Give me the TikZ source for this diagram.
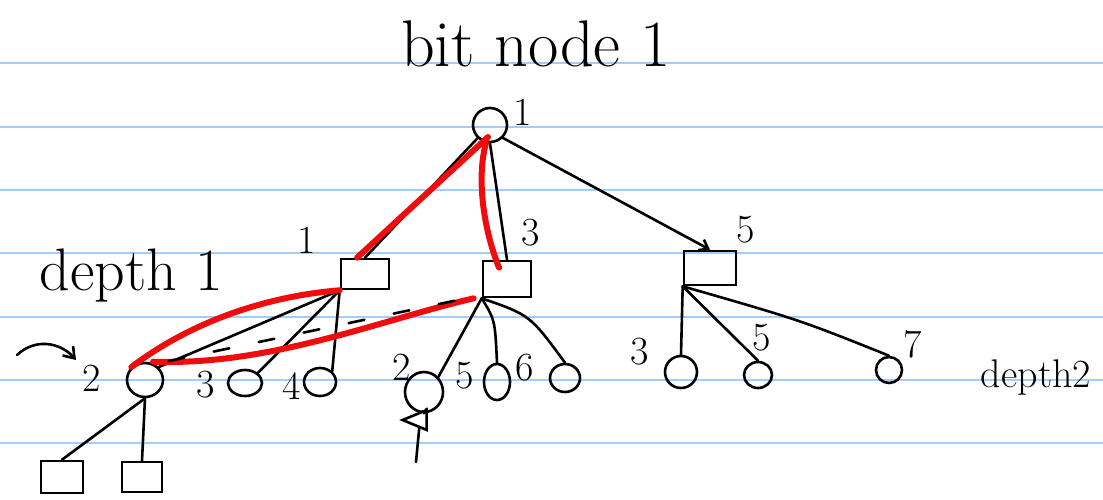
\documentclass[tikz,border=0pt]{standalone}
\usetikzlibrary{shapes.geometric,arrows.meta}
\definecolor{ruled}{RGB}{160,205,250}
\definecolor{ink}{RGB}{240,12,12}
\begin{document}
\begin{tikzpicture}[x=0.5pt,y=-0.5pt,
  pen/.style={line width=1.3pt, line cap=round, line join=round},
  redpen/.style={draw=ink, line width=3pt, line cap=round},
  vnode/.style={draw, ellipse, line width=1.3pt, inner sep=0pt},
  cnode/.style={draw, rectangle, line width=1.3pt, inner sep=0pt},
  lbl/.style={font=\fontsize{20}{24}\selectfont, inner sep=0pt},
  ruleline/.style={draw=ruled, line width=1.4pt}]
\fill[white] (0,0) rectangle (1103,499);
\useasboundingbox (0,0) rectangle (1103,499);
\foreach \y in {63,127,190,253,317,380,443} \draw[ruleline] (0,\y) -- (1103,\y);

% texts
\node[inner sep=0pt, font=\fontsize{33}{40}\selectfont] (title) at (536,44) {bit node 1};
\node[inner sep=0pt, font=\fontsize{30}{36}\selectfont] (d1) at (131,276) {depth 1};
\node[inner sep=0pt, font=\fontsize{20}{24}\selectfont] (d2) at (1036,378) {depth2};

% nodes
\node[vnode, minimum width=17pt, minimum height=17pt] (root) at (490,125) {};
\node[cnode, minimum width=24pt, minimum height=15pt] (c1) at (365,274) {};
\node[cnode, minimum width=24pt, minimum height=18pt] (c3) at (507,279) {};
\node[cnode, minimum width=26pt, minimum height=17pt] (c5) at (710,268) {};

\node[vnode, minimum width=18pt, minimum height=17pt] (v2) at (145,380) {};
\node[vnode, minimum width=17pt, minimum height=13pt] (v3) at (245,383) {};
\node[vnode, minimum width=16pt, minimum height=14pt] (v4) at (320,382) {};
\node[vnode, minimum width=19pt, minimum height=20pt] (v2b) at (424,392) {};
\node[vnode, minimum width=13pt, minimum height=18pt] (v5) at (497,382) {};
\node[vnode, minimum width=15pt, minimum height=14pt] (v6) at (565,378) {};
\node[vnode, minimum width=16pt, minimum height=16pt] (v3c) at (681,372) {};
\node[vnode, minimum width=14pt, minimum height=13pt] (v5c) at (758,375) {};
\node[vnode, minimum width=13pt, minimum height=13pt] (v7) at (889,370) {};

\node[cnode, minimum width=21pt, minimum height=16pt] (s1) at (62,477) {};
\node[cnode, minimum width=20pt, minimum height=15pt] (s2) at (142,477) {};
\node[draw, isosceles triangle, shape border rotate=180, line width=1.3pt, inner sep=0pt,
      minimum width=5pt, minimum height=12pt] (tri) at (420,420) {};
\coordinate (tend) at (416,462);

% labels
\node[lbl] (lr) at (523,112) {1};
\node[lbl] (l1) at (307,240) {1};
\node[lbl] (l3) at (531,233) {3};
\node[lbl] (l5) at (746,230) {5};
\node[lbl] (lv2) at (92,378) {2};
\node[lbl] (lv3) at (206,385) {3};
\node[lbl] (lv4) at (292,386) {4};
\node[lbl] (lv2b) at (402,367) {2};
\node[lbl] (lv5) at (465,376) {5};
\node[lbl] (lv6) at (525,368) {6};
\node[lbl] (lv3c) at (640,352) {3};
\node[lbl] (lv5c) at (762,338) {5};
\node[lbl] (lv7) at (913,344) {7};

% left arrow
\coordinate (astart) at (17,355);
\coordinate (aend) at (76,360);
\draw[pen, -{Straight Barb[length=5pt,width=7pt]}] (astart) .. controls (35,338) and (60,342) .. (aend);

% black edges
\draw[pen] (root) -- (c1.north);
\draw[pen] (root.south) -- (c3.north);
\draw[pen, -{Straight Barb[length=4pt,width=6pt]}] (root.south east) -- (c5.north);

\draw[pen] (c1.south west) -- (v2.north east);
\draw[pen] (c1.south west) -- (v3.north east);
\draw[pen] (c1.south west) -- (v4.north east);

\draw[pen] (c3.south west) -- (v2b.north east);
\draw[pen] (c3.south west) .. controls (495,320) .. (v5.north);
\draw[pen] (c3.south west) .. controls (530,315) .. (v6.north);

\draw[pen] (c5.south west) -- (v3c.north);
\draw[pen] (c5.south west) -- (v5c.north);
\draw[pen] (c5.south west) .. controls (800,320) .. (v7.north);

\draw[pen] (v2.south) -- (s1.north);
\draw[pen] (v2.south) -- (s2.north);
\draw[pen] (v2b.south) -- (tri);
\draw[pen] (tri) -- (tend);

% red path
\draw[redpen] ([shift={(-1pt,-6pt)}]root.center) -- ([xshift=-4pt]c1.north);
\draw[redpen] ([shift={(-2pt,-9pt)}]root.center) .. controls (477,175) and (482,225) .. ([shift={(-4pt,-4pt)}]c3.north);
\draw[redpen] (v2.north west) .. controls (200,315) and (280,295) .. (c1.south west);
\draw[redpen] ([xshift=4pt]v2.north) .. controls (270,366) and (380,320) .. ([xshift=-4pt]c3.south west);

\draw[pen, dash pattern=on 8pt off 15pt] ([shift={(5pt,3pt)}]v2.north east) -- ([shift={(-3pt,1pt)}]c3.south west);
\end{tikzpicture}
\end{document}
